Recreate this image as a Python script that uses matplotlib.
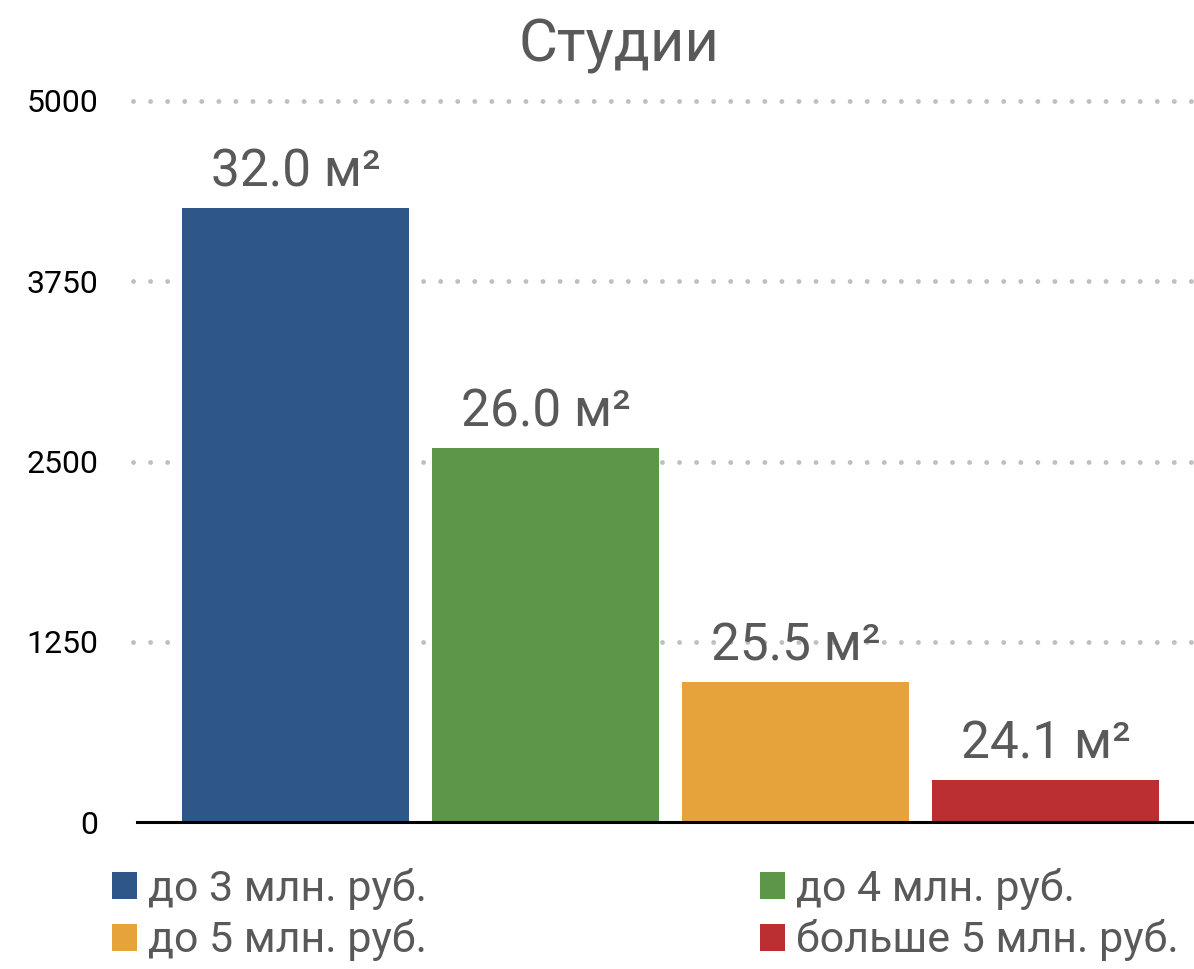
import matplotlib
matplotlib.use("Agg")
import matplotlib.pyplot as plt
from matplotlib.patches import Patch

categories = ["до 3 млн. руб.", "до 4 млн. руб.", "до 5 млн. руб.", "больше 5 млн. руб."]
values = [4258, 2594, 971, 291]
labels = ["32.0 м²", "26.0 м²", "25.5 м²", "24.1 м²"]
colors = ["#2e5788", "#5c9648", "#e6a33c", "#bb2e31"]
yticks = [0, 1250, 2500, 3750, 5000]

plt.rcParams['font.family'] = ['Roboto', 'DejaVu Sans']

fig = plt.figure(figsize=(11.94, 9.69), dpi=100)
W, H = 1194, 969
ax = fig.add_axes([137 / W, 1 - 822 / H, (W - 137) / W, (822 - 101) / H])

x = list(range(len(values)))
bars = ax.bar(x, values, width=0.91, color=colors, zorder=3)
ax.set_xlim(-0.634, -0.634 + 1057 / 250)
ax.set_ylim(0, 5000)

for xi, v, lab in zip(x, values, labels):
    ax.text(xi, v + 70, lab, ha='center', va='bottom', fontsize=37, color='#595959', zorder=4)

ax.set_yticks(yticks)
ax.set_yticklabels([str(t) for t in yticks], fontsize=23, color='black')
ax.tick_params(axis='y', length=0, pad=28)
ax.set_xticks([])
for s in ['top', 'right', 'left']:
    ax.spines[s].set_visible(False)
ax.spines['bottom'].set_linewidth(2.2)
ax.spines['bottom'].set_color('black')
ax.spines['bottom'].set_zorder(5)

for t in yticks[1:]:
    ax.axhline(t, xmin=-0.004, xmax=1, color='#bfbfbf', linestyle=(0, (0.01, 3.5)),
               linewidth=3.5, dash_capstyle='round', zorder=1, clip_on=False)

fig.text(0.518, 1 - 45 / H, "Студии", ha='center', va='center', fontsize=43, color='#595959')

order = [0, 2, 1, 3]
handles = [Patch(facecolor=colors[i], edgecolor='none') for i in order]
leg = fig.legend(handles, [categories[i] for i in order], ncol=2,
                 loc='upper left', bbox_to_anchor=(112 / W, 1 - 868 / H),
                 frameon=False, fontsize=31, handlelength=0.58, handleheight=0.58,
                 handletextpad=0.25, columnspacing=7.75, labelspacing=0.22,
                 borderpad=0, borderaxespad=0)
for t in leg.get_texts():
    t.set_color('#595959')

fig.savefig("out.png", dpi=100)
